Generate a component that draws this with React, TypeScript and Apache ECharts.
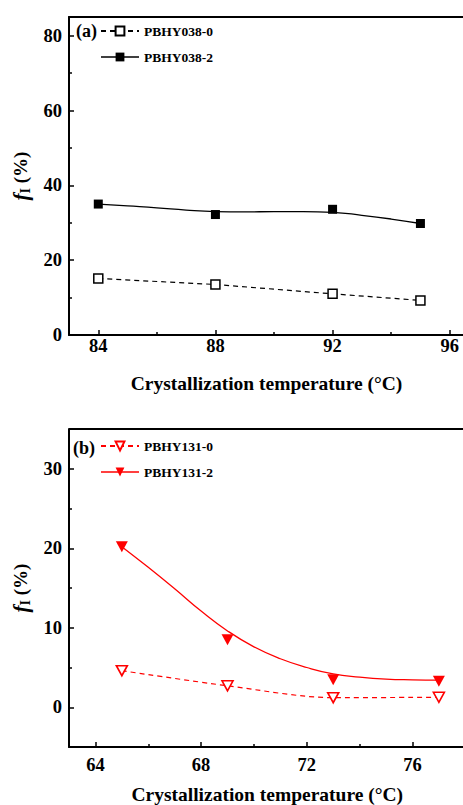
import React, { useEffect, useRef } from "react";
import * as echarts from "echarts";

// ---- data ----
const tempA = [84, 88, 92, 95];
const pbhy038_0 = [15.1, 13.5, 11.0, 9.25];
const pbhy038_2 = [35.0, 32.2, 33.6, 29.8];
const fitTempA = [84, 85, 86, 87, 88, 89, 90, 91, 92, 93, 94, 95];
const fit038_2 = [35.0, 34.5, 34.0, 33.4, 33.0, 32.9, 33.0, 33.0, 32.8, 32.0, 31.0, 29.8];

const tempB = [65, 69, 73, 77];
const pbhy131_0 = [4.6, 2.7, 1.2, 1.26];
const pbhy131_2 = [20.2, 8.5, 3.45, 3.27];
const fitTempB = [65, 66, 67, 68, 69, 70, 71, 72, 73, 74, 75, 76, 77];
const fit131_2 = [20.2, 17.6, 14.9, 12.1, 9.6, 7.6, 6.1, 5.0, 4.2, 3.8, 3.55, 3.45, 3.4];

const xTicksA = [84, 88, 92, 96];
const xMinorA = [86, 90, 94];
const yTicksA = [0, 20, 40, 60, 80];
const yMinorA = [10, 30, 50, 70];
const xTicksB = [64, 68, 72, 76];
const xMinorB = [66, 70, 74];
const yTicksB = [0, 10, 20, 30];
const yMinorB = [5, 15, 25];

const FONT = "'Liberation Serif', 'Times New Roman', serif";
const RED = "#ff0000";

function zip(xs: number[], ys: number[]) {
  return xs.map((x, i) => [x, ys[i]]);
}

function mainAxisX(gridIndex: number, min: number, max: number, ticks: number[], labelMargin: number, nameGap: number, shift: number) {
  return {
    type: "value",
    gridIndex,
    min,
    max,
    position: "bottom",
    name: "Crystallization temperature (°C)",
    nameLocation: "middle",
    nameGap,
    nameTextStyle: { fontFamily: FONT, fontWeight: "bold", fontSize: 19.5, color: "#000", padding: [0, shift, 0, 0] },
    axisLine: { show: true, onZero: false, lineStyle: { color: "#000", width: 2 } },
    axisTick: { show: true, inside: true, length: 5, customValues: ticks, lineStyle: { color: "#000", width: 1.5 } },
    axisLabel: {
      show: true,
      customValues: ticks,
      margin: labelMargin,
      fontFamily: FONT,
      fontWeight: "bold",
      fontSize: 18.5,
      color: "#000",
    },
    splitLine: { show: false },
  };
}

function minorAxisX(gridIndex: number, min: number, max: number, ticks: number[]) {
  return {
    type: "value",
    gridIndex,
    min,
    max,
    position: "bottom",
    axisLine: { show: false, onZero: false },
    axisTick: { show: true, inside: true, length: 3, customValues: ticks, lineStyle: { color: "#000", width: 1.5 } },
    axisLabel: { show: false },
    splitLine: { show: false },
  };
}

function topBorderX(gridIndex: number, min: number, max: number) {
  return {
    type: "value",
    gridIndex,
    min,
    max,
    position: "top",
    axisLine: { show: true, onZero: false, lineStyle: { color: "#000", width: 2 } },
    axisTick: { show: false },
    axisLabel: { show: false },
    splitLine: { show: false },
  };
}

function mainAxisY(gridIndex: number, min: number, max: number, ticks: number[]) {
  return {
    type: "value",
    gridIndex,
    min,
    max,
    position: "left",
    name: "{f|f}{s|I} (%)",
    nameLocation: "middle",
    nameGap: 36,
    nameRotate: 90,
    nameTextStyle: {
      fontFamily: FONT,
      fontWeight: "bold",
      fontSize: 19,
      color: "#000",
      rich: {
        f: { fontFamily: FONT, fontStyle: "italic", fontWeight: "bold", fontSize: 21, color: "#000", lineHeight: 24 },
        s: { fontFamily: FONT, fontWeight: "bold", fontSize: 14, color: "#000", verticalAlign: "bottom", lineHeight: 14 },
      },
    },
    axisLine: { show: true, onZero: false, lineStyle: { color: "#000", width: 2 } },
    axisTick: { show: true, inside: true, length: 5, customValues: ticks, lineStyle: { color: "#000", width: 1.5 } },
    axisLabel: {
      show: true,
      customValues: ticks,
      margin: 7,
      fontFamily: FONT,
      fontWeight: "bold",
      fontSize: 18.5,
      color: "#000",
    },
    splitLine: { show: false },
  };
}

function minorAxisY(gridIndex: number, min: number, max: number, ticks: number[]) {
  return {
    type: "value",
    gridIndex,
    min,
    max,
    position: "left",
    axisLine: { show: false, onZero: false },
    axisTick: { show: true, inside: true, length: 3, customValues: ticks, lineStyle: { color: "#000", width: 1.5 } },
    axisLabel: { show: false },
    splitLine: { show: false },
  };
}

const Y_MAX_B = 35;

export default function App() {
  const ref = useRef<HTMLDivElement>(null);

  useEffect(() => {
    document.body.style.margin = "0";
    if (!ref.current) return;
    const chart = echarts.init(ref.current, undefined, { renderer: "svg" });

    const legendText = { fontFamily: FONT, fontWeight: "bold", fontSize: 13.5, color: "#000" };

    const option: any = {
      animation: false,
      backgroundColor: "#fff",
      grid: [
        { left: 69, top: 17, right: -16, height: 318, show: false, containLabel: false, outerBoundsMode: "none" },
        { left: 69, top: 429, right: -15.5, height: 318, show: false, containLabel: false, outerBoundsMode: "none" },
      ],
      xAxis: [
        mainAxisX(0, 83, 97, xTicksA, 1, 38, 15),
        minorAxisX(0, 83, 97, xMinorA),
        topBorderX(0, 83, 97),
        mainAxisX(1, 63, 78.5, xTicksB, 8, 37, 13),
        minorAxisX(1, 63, 78.5, xMinorB),
      ],
      yAxis: [
        mainAxisY(0, 0, 85, yTicksA),
        minorAxisY(0, 0, 85, yMinorA),
        mainAxisY(1, -5, Y_MAX_B, yTicksB),
        minorAxisY(1, -5, Y_MAX_B, yMinorB),
      ],
      legend: [
        {
          orient: "vertical",
          left: 95,
          top: 19,
          itemWidth: 38,
          itemHeight: 11,
          itemGap: 12,
          textStyle: legendText,
          selectedMode: false,
          data: [
            { name: "PBHY038-0" },
            { name: "PBHY038-2", lineStyle: { width: 1.3, type: "solid", color: "#000", opacity: 1 } },
          ],
        },
        {
          orient: "vertical",
          left: 95,
          top: 434,
          itemWidth: 38,
          itemHeight: 11,
          itemGap: 12,
          textStyle: legendText,
          selectedMode: false,
          data: [
            { name: "PBHY131-0" },
            { name: "PBHY131-2", lineStyle: { width: 1.3, type: "solid", color: RED, opacity: 1 } },
          ],
        },
      ],
      graphic: [
        { type: "text", left: 76, top: 22, style: { text: "(a)", font: `bold 18px ${FONT}`, fill: "#000" } },
        { type: "text", left: 73, top: 439, style: { text: "(b)", font: `bold 18px ${FONT}`, fill: "#000" } },
      ],
      series: [
        {
          name: "fit038-2",
          type: "line",
          xAxisIndex: 0,
          yAxisIndex: 0,
          data: zip(fitTempA, fit038_2),
          smooth: true,
          symbol: "none",
          silent: true,
          lineStyle: { color: "#000", width: 1.3 },
          z: 2,
        },
        {
          name: "PBHY038-0",
          type: "line",
          xAxisIndex: 0,
          yAxisIndex: 0,
          data: zip(tempA, pbhy038_0),
          symbol: "rect",
          symbolSize: 9,
          itemStyle: { color: "#fff", borderColor: "#000", borderWidth: 1.5 },
          lineStyle: { color: "#000", width: 1.2, type: [5, 4] },
          z: 3,
        },
        {
          name: "PBHY038-2",
          type: "line",
          xAxisIndex: 0,
          yAxisIndex: 0,
          data: zip(tempA, pbhy038_2),
          symbol: "rect",
          symbolSize: 9,
          itemStyle: { color: "#000", borderColor: "#000", borderWidth: 0 },
          lineStyle: { color: "#000", width: 0, opacity: 0 },
          z: 3,
        },
        {
          name: "fit131-2",
          type: "line",
          xAxisIndex: 3,
          yAxisIndex: 2,
          data: zip(fitTempB, fit131_2),
          smooth: true,
          symbol: "none",
          silent: true,
          lineStyle: { color: RED, width: 1.3 },
          clip: false,
          markLine: {
            silent: true,
            symbol: "none",
            label: { show: false },
            lineStyle: { color: "#000", width: 2, type: "solid" },
            data: [{ yAxis: Y_MAX_B }],
          },
          z: 2,
        },
        {
          name: "PBHY131-0",
          type: "line",
          xAxisIndex: 3,
          yAxisIndex: 2,
          data: zip(tempB, pbhy131_0),
          smooth: 0.3,
          symbol: "triangle",
          symbolRotate: 180,
          symbolSize: [11, 10],
          itemStyle: { color: "#fff", borderColor: RED, borderWidth: 1.6 },
          lineStyle: { color: RED, width: 1.2, type: [5, 4] },
          z: 3,
        },
        {
          name: "PBHY131-2",
          type: "line",
          xAxisIndex: 3,
          yAxisIndex: 2,
          data: zip(tempB, pbhy131_2),
          symbol: "triangle",
          symbolRotate: 180,
          symbolSize: [12, 11],
          itemStyle: { color: RED, borderColor: RED, borderWidth: 0 },
          lineStyle: { color: RED, width: 0, opacity: 0 },
          z: 3,
        },
      ],
    };

    chart.setOption(option);
    return () => chart.dispose();
  }, []);

  return <div ref={ref} style={{ width: 463, height: 805 }} />;
}
